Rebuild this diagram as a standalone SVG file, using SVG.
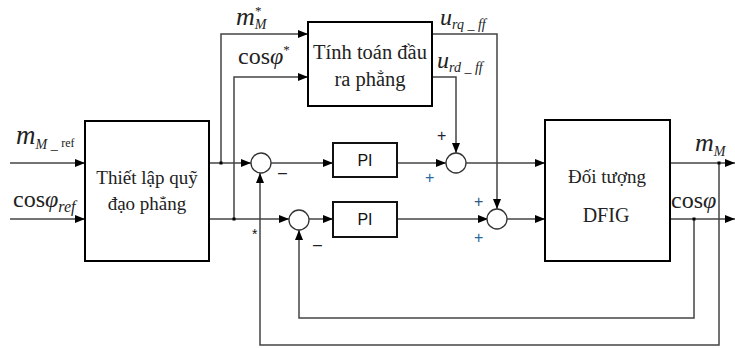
<svg xmlns="http://www.w3.org/2000/svg" width="735" height="348" viewBox="0 0 735 348">
<style>
.box{fill:#fff;stroke:#000;stroke-width:2}
.pi{fill:#fff;stroke:#111;stroke-width:2}
.sum{fill:#fff;stroke:#333;stroke-width:1.3}
.ln{fill:none;stroke:#444;stroke-width:1.5}
.t{font-family:"Liberation Serif","Times New Roman",serif;fill:#222}
.it{font-family:"Liberation Serif","Times New Roman",serif;font-style:italic;fill:#222}
.s{font-family:"Liberation Sans",Arial,sans-serif;fill:#111}
.sg{font-family:"Liberation Sans",Arial,sans-serif;font-size:16px}
</style>
<defs>
<marker id="ar" viewBox="0 0 10 8" refX="10" refY="4" markerWidth="10" markerHeight="8" markerUnits="userSpaceOnUse" orient="auto">
<path d="M0,0 L10,4 L0,8 Z" fill="#000"/>
</marker>
</defs>
<rect width="735" height="348" fill="#fff"/>

<g id="connectors">
<path class="ln" d="M10,163 H85" marker-end="url(#ar)"/>
<path class="ln" d="M10,219 H85" marker-end="url(#ar)"/>
<path class="ln" d="M209,163 H251" marker-end="url(#ar)"/>
<path class="ln" d="M221,163 V34 H308" marker-end="url(#ar)"/>
<path class="ln" d="M209,219 H289" marker-end="url(#ar)"/>
<path class="ln" d="M234,219 V77 H308" marker-end="url(#ar)"/>
<path class="ln" d="M271,163 H333" marker-end="url(#ar)"/>
<path class="ln" d="M397,163 H446" marker-end="url(#ar)"/>
<path class="ln" d="M432,77 H456 V153" marker-end="url(#ar)"/>
<path class="ln" d="M432,34 H497 V209" marker-end="url(#ar)"/>
<path class="ln" d="M465,163 H545" marker-end="url(#ar)"/>
<path class="ln" d="M309,219 H333" marker-end="url(#ar)"/>
<path class="ln" d="M397,219 H488" marker-end="url(#ar)"/>
<path class="ln" d="M507,219 H545" marker-end="url(#ar)"/>
<path class="ln" d="M670,163 H735" marker-end="url(#ar)"/>
<path class="ln" d="M670,219 H735" marker-end="url(#ar)"/>
<path class="ln" d="M694,219 V318 H299 V230" marker-end="url(#ar)"/>
<path class="ln" d="M719,163 V345 H260 V173" marker-end="url(#ar)"/>
<rect x="219.5" y="161.5" width="3" height="3" fill="#000"/>
<rect x="232.5" y="217.5" width="3" height="3" fill="#000"/>
<rect x="692.5" y="217.5" width="3" height="3" fill="#000"/>
<rect x="717.5" y="161.5" width="3" height="3" fill="#000"/>
</g>

<g id="inputs">
<text class="it" x="16" y="144" font-size="27">m<tspan font-size="14" dy="5">M _ </tspan><tspan font-size="12" font-style="normal" dy="-2">ref</tspan></text>
<text class="t" x="13" y="207" font-size="24">cos<tspan font-style="italic">φ</tspan><tspan font-size="16" font-style="italic" dy="5">ref</tspan></text>
</g>

<g id="trajectory">
<rect class="box" x="85" y="121" width="124" height="140"/>
<text class="t" x="147" y="184" font-size="19" text-anchor="middle">Thiết lập quỹ</text>
<text class="t" x="147" y="210" font-size="19" text-anchor="middle">đạo phẳng</text>
</g>

<g id="flat-output">
<rect class="box" x="308" y="22" width="124" height="84"/>
<text class="t" x="370" y="59" font-size="20.5" text-anchor="middle">Tính toán đầu</text>
<text class="t" x="370" y="86" font-size="20.5" text-anchor="middle">ra phẳng</text>
<text class="it" x="236" y="25" font-size="26">m<tspan font-size="14" dy="4">M</tspan></text>
<text class="t" x="255" y="15" font-size="13">*</text>
<text class="t" x="238" y="64" font-size="24">cos<tspan font-style="italic">φ</tspan><tspan font-size="13" dy="-10">*</tspan></text>
<text class="it" x="440" y="25" font-size="24">u<tspan font-size="14" dy="4">rq _ ff</tspan></text>
<text class="it" x="437" y="68" font-size="24">u<tspan font-size="14" dy="4">rd _ ff</tspan></text>
</g>

<g id="sum1">
<circle class="sum" cx="261" cy="163" r="10"/>
<text class="sg" x="278" y="178" fill="#222">–</text>
</g>
<g id="sum2">
<circle class="sum" cx="299" cy="220" r="10"/>
<text class="sg" x="313" y="250" fill="#222">–</text>
</g>
<g id="pi1">
<rect class="pi" x="333" y="143" width="64" height="34"/>
<text class="s" x="365" y="166" font-size="16" text-anchor="middle">PI</text>
</g>
<g id="pi2">
<rect class="pi" x="333" y="202" width="64" height="35"/>
<text class="s" x="365" y="225" font-size="16" text-anchor="middle">PI</text>
</g>
<g id="sum3">
<circle class="sum" cx="456" cy="163" r="10"/>
<text class="sg" x="437" y="141" fill="#223">+</text>
<text class="sg" x="425" y="183" fill="#2a6aa0">+</text>
</g>
<g id="sum4">
<circle class="sum" cx="497" cy="219" r="10"/>
<text class="sg" x="474" y="207" fill="#2a5a88">+</text>
<text class="sg" x="474" y="243" fill="#2a6aa0">+</text>
</g>
<text class="s" x="252" y="239" font-size="14" fill="#333">*</text>

<g id="dfig">
<rect class="box" x="545" y="120" width="125" height="141"/>
<text class="t" x="607" y="183" font-size="19" text-anchor="middle">Đối tượng</text>
<text class="t" x="606" y="222" font-size="20" text-anchor="middle">DFIG</text>
</g>

<g id="outputs">
<text class="it" x="695" y="151" font-size="26">m<tspan font-size="14" dy="5">M</tspan></text>
<text class="t" x="671" y="208" font-size="24">cos<tspan font-style="italic">φ</tspan></text>
</g>
</svg>
